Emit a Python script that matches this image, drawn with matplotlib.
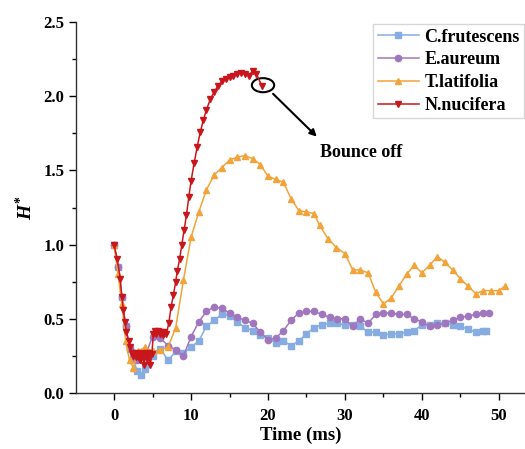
import matplotlib
matplotlib.use("Agg")
import matplotlib.pyplot as plt
from matplotlib.patches import Ellipse
from matplotlib.ticker import MultipleLocator

plt.rcParams["font.family"] = "Liberation Serif"
plt.rcParams["font.weight"] = "bold"
plt.rcParams["mathtext.fontset"] = "custom"
plt.rcParams["mathtext.it"] = "Liberation Serif:italic:bold"
plt.rcParams["mathtext.rm"] = "Liberation Serif:bold"

# C.frutescens
t_cf = [0.0, 0.5, 1.0, 1.5, 2.0, 2.5, 3.0, 3.5, 4.0, 5.0, 6.0, 7.0, 8.0, 9.0, 10.0, 11.0, 12.0, 13.0,
        14.0, 15.0, 16.0, 17.0, 18.0, 19.0, 20.0, 21.0, 22.0, 23.0, 24.0, 25.0, 26.0, 27.0, 28.0, 29.0,
        30.0, 31.0, 32.0, 33.0, 34.0, 35.0, 36.0, 37.0, 38.0, 39.0, 40.0, 41.0, 42.0, 43.0, 44.0, 45.0,
        46.0, 47.0, 48.0, 48.3]
h_cf = [1.00, 0.85, 0.65, 0.45, 0.30, 0.22, 0.15, 0.12, 0.16, 0.25, 0.30, 0.22, 0.28, 0.27, 0.31, 0.35,
        0.45, 0.49, 0.53, 0.52, 0.48, 0.44, 0.42, 0.39, 0.37, 0.34, 0.35, 0.32, 0.35, 0.40, 0.44, 0.46,
        0.47, 0.47, 0.46, 0.46, 0.45, 0.41, 0.41, 0.39, 0.40, 0.40, 0.41, 0.42, 0.46, 0.46, 0.47, 0.47,
        0.46, 0.45, 0.43, 0.41, 0.42, 0.42]

# E.aureum
t_ea = [0.0, 0.5, 1.0, 1.5, 2.0, 2.5, 3.0, 4.0, 5.0, 6.0, 7.0, 8.0, 9.0, 10.0, 11.0, 12.0, 13.0, 14.0,
        15.0, 16.0, 17.0, 18.0, 19.0, 20.0, 21.0, 22.0, 23.0, 24.0, 25.0, 26.0, 27.0, 28.0, 29.0, 30.0,
        31.0, 32.0, 33.0, 34.0, 35.0, 36.0, 37.0, 38.0, 39.0, 40.0, 41.0, 42.0, 43.0, 44.0, 45.0, 46.0,
        47.0, 48.0, 48.7]
h_ea = [1.00, 0.85, 0.65, 0.45, 0.30, 0.24, 0.22, 0.25, 0.38, 0.37, 0.32, 0.29, 0.25, 0.38, 0.48, 0.55,
        0.58, 0.57, 0.54, 0.51, 0.49, 0.47, 0.41, 0.36, 0.37, 0.42, 0.49, 0.54, 0.55, 0.55, 0.53, 0.51,
        0.50, 0.50, 0.45, 0.50, 0.47, 0.53, 0.54, 0.54, 0.53, 0.53, 0.50, 0.48, 0.45, 0.46, 0.47, 0.49,
        0.51, 0.52, 0.53, 0.54, 0.54]

# T.latifolia
t_tl = [0.0, 0.5, 1.0, 1.5, 2.0, 2.5, 3.1, 4.0, 5.0, 6.0, 7.0, 8.0, 9.0, 10.0, 11.0, 12.0, 13.0, 14.0,
        15.0, 16.0, 17.0, 18.0, 19.0, 20.0, 21.0, 22.0, 23.0, 24.0, 25.0, 26.0, 26.7, 27.8, 28.9, 30.0,
        31.0, 32.0, 33.0, 34.0, 35.0, 36.0, 37.0, 38.0, 39.0, 40.0, 41.0, 42.0, 43.0, 44.0, 45.0, 46.0,
        47.0, 48.0, 49.0, 50.0, 50.8]
h_tl = [1.00, 0.80, 0.60, 0.35, 0.22, 0.17, 0.28, 0.31, 0.28, 0.29, 0.31, 0.44, 0.76, 1.05, 1.22, 1.37,
        1.47, 1.52, 1.57, 1.59, 1.60, 1.58, 1.54, 1.46, 1.44, 1.42, 1.31, 1.23, 1.22, 1.21, 1.13, 1.04,
        0.98, 0.94, 0.83, 0.83, 0.81, 0.68, 0.60, 0.64, 0.72, 0.80, 0.86, 0.81, 0.86, 0.92, 0.88, 0.83,
        0.77, 0.72, 0.67, 0.69, 0.69, 0.69, 0.72]

# N.nucifera
t_nn = [0.0, 0.4, 0.8, 1.0, 1.2, 1.4, 1.6, 1.9, 2.1, 2.3, 2.5, 2.7, 2.9, 3.1, 3.3, 3.5, 3.7, 3.9, 4.1,
        4.3, 4.5, 4.7, 4.9, 5.1, 5.3, 5.5, 5.7, 5.9, 6.1, 6.3, 6.5, 6.8, 7.1, 7.4, 7.7, 8.0, 8.2, 8.5,
        8.8, 9.1, 9.4, 9.7, 10.0, 10.4, 10.8, 11.2, 11.6, 12.0, 12.5, 13.0, 13.5, 14.0, 14.5, 15.0, 15.5,
        16.0, 16.5, 17.0, 17.5, 18.0, 18.5, 19.2]
h_nn = [1.00, 0.90, 0.77, 0.65, 0.56, 0.48, 0.41, 0.35, 0.31, 0.27, 0.25, 0.27, 0.24, 0.26, 0.22, 0.27,
        0.25, 0.19, 0.27, 0.23, 0.27, 0.19, 0.26, 0.40, 0.42, 0.40, 0.42, 0.40, 0.41, 0.39, 0.41, 0.40,
        0.47, 0.58, 0.66, 0.75, 0.82, 0.90, 1.00, 1.10, 1.20, 1.32, 1.43, 1.55, 1.66, 1.76, 1.84, 1.91,
        1.98, 2.03, 2.07, 2.10, 2.12, 2.13, 2.14, 2.15, 2.16, 2.15, 2.14, 2.17, 2.15, 2.07]

fig = plt.figure(figsize=(5.25, 4.49), dpi=100)
ax = fig.add_axes([0.145, 0.1247, 0.855, 0.826])

ax.plot(t_cf, h_cf, color="#86ACE2", marker="s", markersize=4, lw=1.1, label="C.frutescens")
ax.plot(t_ea, h_ea, color="#A077BE", marker="o", markersize=4.5, lw=1.1, label="E.aureum")
ax.plot(t_tl, h_tl, color="#F2A33A", marker="^", markersize=4.5, lw=1.1, label="T.latifolia")
ax.plot(t_nn, h_nn, color="#C8161D", marker="v", markersize=4.5, lw=1.1, label="N.nucifera")

ax.set_xlim(-4.94, 53.4)
ax.set_ylim(0, 2.5)
ax.xaxis.set_major_locator(MultipleLocator(10))
ax.xaxis.set_minor_locator(MultipleLocator(5))
ax.yaxis.set_major_locator(MultipleLocator(0.5))
ax.yaxis.set_minor_locator(MultipleLocator(0.25))
ax.yaxis.set_major_formatter(matplotlib.ticker.FormatStrFormatter("%.1f"))
ax.tick_params(which="major", direction="out", length=5, width=1, labelsize=12)
ax.tick_params(axis="x", which="major", pad=6)
ax.tick_params(which="minor", direction="out", length=3, width=1)
for s in ["top", "right"]:
    ax.spines[s].set_visible(False)
for s in ["left", "bottom"]:
    ax.spines[s].set_linewidth(1)
    ax.spines[s].set_color("#333333")

ax.set_xlabel("Time (ms)", fontsize=13.5, fontweight="bold", labelpad=2)
ax.set_ylabel("$H^{*}$", fontsize=14, labelpad=5)

ax.add_patch(Ellipse((19.35, 2.075), 2.9, 0.095, fill=False, edgecolor="black", lw=1.5))
ax.annotate("", xy=(26.6, 1.715), xytext=(20.4, 2.03),
            arrowprops=dict(arrowstyle="-|>", color="black", lw=1.5, mutation_scale=10))
ax.text(26.75, 1.62, "Bounce off", fontsize=13, fontweight="bold", va="center", ha="left")

leg = ax.legend(loc="upper left", bbox_to_anchor=(373 / 525, 1 - 24 / 449),
                bbox_transform=fig.transFigure, fontsize=13, frameon=True, fancybox=False,
                handlelength=2.3, handletextpad=0.3, borderpad=0.25, labelspacing=0.32,
                borderaxespad=0)
leg.get_frame().set_edgecolor("#cccccc")
leg.get_frame().set_linewidth(1)

fig.savefig("out.png", dpi=100)
